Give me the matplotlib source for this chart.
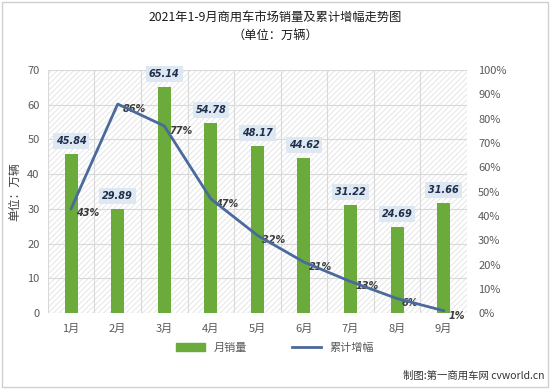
import matplotlib.pyplot as plt
import matplotlib.patches as mpatches
import numpy as np

plt.rcParams['font.family'] = ['Noto Sans CJK SC', 'DejaVu Sans']
plt.rcParams['hatch.color'] = '#e2e2e2'
plt.rcParams['hatch.linewidth'] = 0.6

months = ['1月', '2月', '3月', '4月', '5月', '6月', '7月', '8月', '9月']
sales = [45.84, 29.89, 65.14, 54.78, 48.17, 44.62, 31.22, 24.69, 31.66]
growth = [43, 86, 77, 47, 32, 21, 13, 6, 1]

bar_color = '#6aab3c'
line_color = '#4a6a9c'
num_font = ['DejaVu Sans']

fig = plt.figure(figsize=(5.5, 3.89), dpi=100)
ax = fig.add_axes([0.087, 0.195, 0.762, 0.625])
ax2 = ax.twinx()

x = np.arange(len(months))

# hatched background
ax.add_patch(mpatches.Rectangle((0, 0), 1, 1, transform=ax.transAxes, facecolor='white',
                                edgecolor='#e2e2e2', hatch='//////', linewidth=0, zorder=0))

ax.bar(x, sales, width=0.28, color=bar_color, zorder=3)
for xi, v in zip(x, sales):
    ax.text(xi, v + 2.3, f'{v:.2f}', ha='center', va='bottom', fontsize=7,
            fontweight='bold', style='italic', color='#1f2d4a', zorder=5, family=num_font,
            bbox=dict(boxstyle='square,pad=0.3', facecolor='#dde8f3', edgecolor='none'))

ax.set_xlim(-0.5, len(months) - 0.5)
ax.set_ylim(0, 70)
ax.set_yticks(range(0, 71, 10))
ax.set_xticks(x)
ax.set_xticklabels(months)
ax.set_xticks(np.arange(-0.5, len(months), 1), minor=True)
ax.grid(True, which='minor', axis='x', color='#d9d9d9', linewidth=0.8, zorder=1)
ax.grid(True, which='major', axis='y', color='#d9d9d9', linewidth=0.8, zorder=1)
ax.tick_params(axis='both', which='both', length=0, labelsize=8, colors='#595959')
ax.tick_params(axis='x', pad=8)
ax.tick_params(axis='y', pad=6)
for s in ax.spines.values():
    s.set_visible(False)
ax.set_ylabel('单位：万辆', fontsize=8.5, color='#404040', va='center')
ax.yaxis.set_label_coords(-0.078, 0.5)

ax2.plot(x, growth, color=line_color, linewidth=2, zorder=4)
for xi, g in zip(x, growth):
    ax2.text(xi + 0.1, g - 2, f'{g}%', ha='left', va='center', fontsize=7,
             style='italic', fontweight='bold', color='#3a3a3a', family=num_font)
ax2.set_ylim(0, 100)
ax2.set_yticks(range(0, 101, 10))
ax2.set_yticklabels([f'{t}%' for t in range(0, 101, 10)])
ax2.tick_params(axis='y', length=0, labelsize=8, colors='#595959', pad=8)
for s in ax2.spines.values():
    s.set_visible(False)

handles = [mpatches.Patch(color=bar_color),
           plt.Line2D([0], [0], color=line_color, linewidth=2)]
fig.legend(handles, ['月销量', '累计增幅'], loc='center', bbox_to_anchor=(0.5, 0.105),
           ncol=2, frameon=False, fontsize=8, columnspacing=4, handlelength=2.6,
           labelcolor='#595959')

fig.text(0.5, 0.955, '2021年1-9月商用车市场销量及累计增幅走势图', ha='center', va='center',
         fontsize=8.8, color='#1a1a1a', fontweight='medium')
fig.text(0.5, 0.91, '（单位：万辆）', ha='center', va='center', fontsize=8.8, color='#1a1a1a',
         fontweight='medium')
fig.text(0.99, 0.035, '制图:第一商用车网 cvworld.cn', ha='right', va='center',
         fontsize=7.5, color='#333333')

fig.add_artist(mpatches.Rectangle((0.004, 0.004), 0.992, 0.992, transform=fig.transFigure,
                                  fill=False, edgecolor='#d0d0d0', linewidth=1))

fig.savefig('out.png', dpi=100)
